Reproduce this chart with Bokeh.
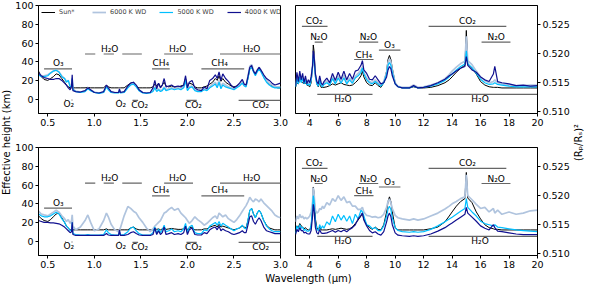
from bokeh.plotting import figure
from bokeh.layouts import row, column
from bokeh.models import Label, Range1d, FixedTicker, PrintfTickFormatter
from bokeh.embed import file_html
from bokeh.resources import INLINE
from bokeh.core.properties import value

FONT = "DejaVu Sans"

# ---------------- data ----------------
wl_vis = [0.40, 0.43, 0.46, 0.50, 0.53, 0.56, 0.59, 0.62, 0.65, 0.68,
          0.70, 0.72, 0.74, 0.755, 0.762, 0.77, 0.80, 0.85, 0.90, 0.93,
          0.96, 1.00, 1.05, 1.10, 1.13, 1.15, 1.18, 1.22, 1.26, 1.27,
          1.28, 1.32, 1.36, 1.39, 1.42, 1.45, 1.48, 1.52, 1.56, 1.60,
          1.63, 1.65, 1.67, 1.69, 1.71, 1.73, 1.75, 1.77, 1.80, 1.83,
          1.86, 1.90, 1.93, 1.96, 1.98, 2.00, 2.02, 2.05, 2.08, 2.11,
          2.15, 2.18, 2.21, 2.24, 2.27, 2.30, 2.32, 2.34, 2.36, 2.38,
          2.41, 2.44, 2.47, 2.50, 2.53, 2.56, 2.59, 2.61, 2.63, 2.65,
          2.67, 2.69, 2.71, 2.73, 2.75, 2.77, 2.79, 2.82, 2.85, 2.88,
          2.91, 2.94, 2.97, 3.00]

# top-left panel (effective height, km)
tl_sun = [30, 24, 21, 20, 22, 24, 27, 26, 22, 18,
          15, 13, 12, 12, 12, 12, 12, 12, 12, 12.5,
          12, 12, 12, 12, 15, 13, 12, 12, 12, 12,
          12, 12, 15, 17, 18, 14, 12, 12, 12, 12,
          13, 16, 14, 17, 13, 15, 18, 14, 13, 14,
          13, 13, 14, 15, 22, 14, 17, 16, 13, 12,
          12, 13, 14, 16, 18, 22, 20, 25, 19, 22,
          18, 16, 14, 13, 14, 16, 18, 15, 14, 22,
          32, 34, 30, 26, 30, 32, 30, 24, 20, 16,
          14, 13, 12, 12]
tl_wd6000 = [27, 25, 25, 26, 28, 30, 31, 29, 25, 22,
             19, 20, 14, 15, 22, 11, 8.5, 7.5, 8.5, 12,
             9.5, 7.5, 6.5, 7.5, 14, 11, 7.5, 7, 7, 9,
             7, 7.5, 13, 16, 17, 14, 9.5, 7, 6.5, 7,
             9, 13, 9, 11, 9, 10, 13, 10, 11, 12,
             11, 12, 11, 13, 21, 10, 13, 14, 10, 9,
             9, 11, 10, 13, 16, 18, 14, 20, 13, 17,
             15, 13, 12, 11, 13, 15, 19, 15, 14, 24,
             35, 37, 31, 27, 31, 34, 31, 25, 20, 17,
             15, 13, 13, 13]
tl_wd5000 = [26, 24, 24, 25, 28, 30, 31, 29, 24, 22,
             18, 20, 13, 14, 22, 10, 8, 7, 8, 11,
             9, 7, 6, 7, 13, 10, 7, 6.5, 6.5, 9,
             6.5, 7, 12, 15, 16, 13, 9, 6.5, 6, 6.5,
             8, 12, 8, 10, 8, 9, 12, 9, 10, 11,
             10, 11, 10, 12, 20, 9, 12, 13, 9, 8,
             8, 10, 9, 12, 14, 16, 12, 18, 11, 15,
             13, 12, 11, 10, 12, 14, 17, 14, 13, 22,
             32, 34, 29, 25, 29, 32, 29, 23, 18, 15,
             13, 12, 12, 12]
tl_wd4000 = [28, 25, 23, 22, 21, 21, 22, 22, 20, 17,
             15, 12, 10, 14, 26, 9, 8, 7.5, 9, 12,
             10, 7, 6.5, 8, 15, 12, 8, 7, 7, 11,
             7, 8, 14, 17, 18, 15, 10, 7, 6.5, 7,
             12, 20, 11, 17, 12, 15, 22, 13, 14, 15,
             13, 14, 13, 15, 25, 12, 18, 20, 12, 10,
             9, 13, 11, 20, 22, 26, 22, 29, 20, 27,
             22, 19, 15, 12, 14, 17, 21, 16, 15, 24,
             34, 36, 30, 27, 31, 34, 31, 26, 22, 20,
             17, 15, 16, 17]

# bottom-left panel (effective height, km)
bl_sun = [27, 24, 22, 21, 23, 26, 29, 30, 25, 20,
          16, 14, 12, 12, 12, 12, 12, 12, 12, 12,
          12, 12, 12, 12, 13, 12, 12, 12, 12, 12,
          12, 12, 12, 14, 15, 13, 12, 12, 12, 12,
          12, 14, 12.5, 13, 12, 13, 15, 12.5, 13, 13.5,
          13, 12.5, 12.5, 13, 16, 12, 14, 15, 12, 12,
          12, 13, 13, 15, 16, 17, 15, 18, 15, 16,
          15, 14, 13, 12, 13, 14, 16, 15, 14, 22,
          33, 35, 29, 25, 30, 33, 30, 22, 17, 14,
          13, 12, 12, 12]
bl_wd6000 = [32, 29, 28, 27, 29, 31, 33, 31, 27, 24,
             21, 23, 19, 22, 28, 16, 12, 15, 22, 28,
             20, 11, 13, 22, 30, 26, 18, 12, 10, 12,
             14, 27, 37, 35, 32, 30, 25, 20, 14, 10,
             13, 16, 18, 20, 22, 26, 30, 31, 34, 36,
             33, 35, 30, 27, 25, 22, 19, 22, 26, 23,
             20, 17, 19, 22, 25, 27, 24, 30, 28, 26,
             28, 24, 22, 20, 23, 27, 32, 35, 38, 42,
             47, 44, 42, 45, 44, 42, 45, 41, 38, 35,
             32, 28, 26, 25]
bl_wd5000 = [29, 27, 26, 26, 27, 29, 31, 29, 24, 20,
             16, 14, 11, 12, 20, 8, 7, 6.5, 6.5, 7,
             6.5, 6.5, 6.5, 7, 12, 9, 7, 6.5, 6.5, 10,
             6.5, 7, 10, 14, 15, 11, 8, 6.5, 6.5, 6.5,
             9, 15, 8, 13, 9, 12, 17, 10, 11, 13,
             10, 11, 10, 13, 19, 9, 15, 17, 9, 8,
             8, 12, 11, 16, 18, 20, 17, 21, 16, 19,
             17, 15, 13, 11, 13, 14, 17, 14, 13, 22,
             33, 35, 29, 25, 30, 33, 30, 22, 16, 13,
             11, 10, 10, 10]
bl_wd4000 = [22, 21, 20, 20, 19.5, 19.5, 19, 18.5, 17, 15,
             13, 11, 9, 10, 20, 7, 6, 6, 6, 6,
             6, 6, 6, 6, 8, 6.5, 6, 6, 6, 12,
             6, 6, 7, 9, 10, 8, 6.5, 6, 6, 6,
             7, 14, 7, 11, 7, 9, 15, 7, 8, 9,
             7, 8, 7, 9, 16, 7, 12, 14, 7, 6.5,
             6.5, 9, 8, 12, 14, 15, 12, 16, 11, 13,
             11, 10, 8, 7, 8, 9, 11, 9, 9, 17,
             26, 27, 21, 18, 22, 25, 22, 15, 11, 10,
             9, 8, 8, 8]

wl_ir = [3.0, 3.1, 3.2, 3.3, 3.4, 3.5, 3.6, 3.7, 3.8, 3.9,
         4.0, 4.1, 4.2, 4.25, 4.3, 4.35, 4.4, 4.5, 4.6, 4.7,
         4.8, 4.9, 5.0, 5.2, 5.4, 5.6, 5.8, 6.0, 6.2, 6.4,
         6.6, 6.8, 7.0, 7.2, 7.4, 7.6, 7.7, 7.8, 8.0, 8.2,
         8.4, 8.6, 8.8, 9.0, 9.2, 9.4, 9.5, 9.6, 9.7, 9.8,
         10.0, 10.2, 10.5, 11.0, 11.3, 11.6, 12.0, 12.5, 13.0, 13.5,
         13.8, 14.0, 14.3, 14.6, 14.9, 15.0, 15.1, 15.4, 15.7, 16.0,
         16.3, 16.6, 16.9, 17.0, 17.2, 17.5, 18.0, 18.5, 19.0, 19.5,
         20.0]

# top-right panel ((Rp/Rs)^2)
tr_sun = [.5142, .5150, .5148, .5155, .5152, .5150, .5148, .5150, .5146, .5145,
          .5143, .5150, .5180, .5215, .5205, .5185, .5165, .5148, .5143, .5150,
          .5142, .5142, .5142, .5143, .5145, .5148, .5146, .5148, .5150, .5147,
          .5146, .5145, .5146, .5150, .5155, .5162, .5170, .5160, .5150, .5146,
          .5145, .5150, .5145, .5142, .5150, .5170, .5190, .5197, .5190, .5175,
          .5150, .5143, .5141, .5141, .5143, .5141, .5141, .5142, .5145, .5150,
          .5155, .5160, .5168, .5175, .5180, .5240, .5182, .5175, .5165, .5152,
          .5146, .5143, .5142, .5142, .5142, .5141, .5141, .5141, .5141, .5141,
          .5141]
tr_wd6000 = [.5145, .5160, .5150, .5163, .5153, .5160, .5150, .5157, .5149, .5150,
             .5147, .5157, .5180, .5202, .5196, .5178, .5162, .5150, .5146, .5157,
             .5147, .5145, .5149, .5153, .5148, .5160, .5150, .5162, .5152, .5163,
             .5151, .5158, .5152, .5161, .5166, .5172, .5178, .5168, .5158, .5152,
             .5150, .5155, .5150, .5146, .5152, .5168, .5185, .5191, .5186, .5172,
             .5150, .5144, .5142, .5142, .5146, .5142, .5143, .5146, .5150, .5157,
             .5164, .5170, .5177, .5183, .5187, .5230, .5188, .5181, .5170, .5160,
             .5154, .5150, .5152, .5155, .5150, .5148, .5146, .5145, .5145, .5146,
             .5146]
tr_wd5000 = [.5143, .5157, .5148, .5160, .5150, .5157, .5148, .5154, .5146, .5148,
             .5145, .5155, .5178, .5198, .5192, .5176, .5160, .5148, .5144, .5155,
             .5145, .5143, .5147, .5150, .5146, .5157, .5148, .5158, .5149, .5158,
             .5148, .5155, .5149, .5158, .5162, .5168, .5175, .5165, .5155, .5150,
             .5148, .5152, .5148, .5144, .5150, .5165, .5180, .5185, .5180, .5168,
             .5148, .5143, .5141, .5141, .5144, .5141, .5142, .5144, .5148, .5154,
             .5160, .5165, .5172, .5178, .5182, .5205, .5183, .5176, .5166, .5156,
             .5150, .5147, .5148, .5150, .5147, .5146, .5144, .5143, .5143, .5143,
             .5143]
tr_wd4000 = [.5145, .5168, .5152, .5170, .5155, .5166, .5150, .5162, .5148, .5155,
             .5150, .5160, .5180, .5205, .5198, .5180, .5165, .5152, .5148, .5162,
             .5150, .5146, .5152, .5158, .5150, .5166, .5154, .5168, .5156, .5170,
             .5155, .5166, .5156, .5170, .5172, .5180, .5188, .5172, .5166, .5156,
             .5155, .5162, .5155, .5148, .5150, .5160, .5172, .5178, .5174, .5162,
             .5148, .5143, .5141, .5141, .5145, .5141, .5142, .5145, .5150, .5156,
             .5162, .5165, .5170, .5175, .5178, .5195, .5180, .5172, .5168, .5160,
             .5155, .5152, .5165, .5178, .5152, .5150, .5148, .5145, .5146, .5144,
             .5145]

# bottom-right panel ((Rp/Rs)^2)
br_sun = [.5140, .5148, .5145, .5152, .5148, .5146, .5143, .5145, .5142, .5141,
          .5141, .5148, .5178, .5215, .5205, .5182, .5160, .5145, .5141, .5146,
          .5141, .5141, .5141, .5141, .5142, .5143, .5142, .5143, .5144, .5143,
          .5142, .5143, .5146, .5152, .5158, .5165, .5170, .5160, .5150, .5145,
          .5142, .5146, .5142, .5141, .5150, .5172, .5190, .5198, .5190, .5172,
          .5145, .5141, .5141, .5141, .5141, .5141, .5141, .5143, .5146, .5155,
          .5165, .5172, .5182, .5190, .5195, .5240, .5196, .5188, .5172, .5160,
          .5150, .5145, .5143, .5142, .5142, .5141, .5141, .5141, .5141, .5141,
          .5141]
br_wd6000 = [.5155, .5165, .5160, .5168, .5162, .5165, .5160, .5163, .5160, .5162,
             .5165, .5172, .5190, .5214, .5205, .5188, .5175, .5170, .5172, .5178,
             .5176, .5182, .5178, .5188, .5184, .5195, .5190, .5200, .5192, .5198,
             .5188, .5190, .5182, .5182, .5176, .5177, .5180, .5172, .5166, .5165,
             .5163, .5164, .5162, .5163, .5168, .5180, .5190, .5194, .5188, .5178,
             .5166, .5162, .5160, .5158, .5160, .5158, .5160, .5165, .5170, .5177,
             .5182, .5186, .5190, .5195, .5198, .5236, .5200, .5193, .5185, .5178,
             .5180, .5172, .5178, .5170, .5175, .5168, .5172, .5168, .5170, .5174,
             .5175]
br_wd5000 = [.5135, .5148, .5142, .5150, .5144, .5146, .5140, .5142, .5139, .5139,
             .5140, .5150, .5180, .5200, .5192, .5172, .5155, .5142, .5140, .5150,
             .5143, .5148, .5144, .5155, .5150, .5165, .5155, .5168, .5158, .5166,
             .5156, .5165, .5152, .5168, .5160, .5175, .5172, .5165, .5150, .5148,
             .5143, .5145, .5140, .5140, .5148, .5165, .5177, .5182, .5176, .5162,
             .5145, .5140, .5138, .5137, .5138, .5137, .5138, .5142, .5148, .5155,
             .5160, .5163, .5168, .5173, .5178, .5195, .5180, .5172, .5165, .5156,
             .5152, .5150, .5148, .5150, .5146, .5145, .5143, .5141, .5140, .5139,
             .5138]
br_wd4000 = [.5133, .5142, .5138, .5145, .5140, .5140, .5136, .5137, .5135, .5134,
             .5134, .5140, .5165, .5185, .5178, .5160, .5145, .5136, .5134, .5142,
             .5136, .5135, .5135, .5136, .5138, .5140, .5137, .5140, .5138, .5141,
             .5138, .5142, .5145, .5150, .5160, .5166, .5170, .5158, .5148, .5140,
             .5136, .5138, .5134, .5132, .5138, .5155, .5165, .5170, .5164, .5150,
             .5136, .5132, .5131, .5130, .5131, .5130, .5131, .5134, .5139, .5145,
             .5150, .5153, .5158, .5163, .5168, .5180, .5170, .5163, .5156, .5148,
             .5144, .5141, .5150, .5145, .5139, .5138, .5136, .5134, .5133, .5133,
             .5133]

series_names = ["Sun*", "6000 K WD", "5000 K WD", "4000 K WD"]

vis_xticks = [0.5, 1.0, 1.5, 2.0, 2.5, 3.0]
vis_yticks = [0, 20, 40, 60, 80, 100]
ir_xticks = [4, 6, 8, 10, 12, 14, 16, 18, 20]
ir_yticks = [0.510, 0.515, 0.520, 0.525]

# molecular band annotations: (label, band ranges, label position, level key)
vis_above = [("O₃", [(0.46, 0.76)], 0.613, "O3"),
             ("H₂O", [(0.90, 1.01), (1.10, 1.21), (1.30, 1.51)], 1.165, "H2O"),
             ("H₂O", [(1.75, 2.06)], 1.895, "H2O"),
             ("H₂O", [(2.35, 3.00)], 2.69, "H2O"),
             ("CH₄", [(1.62, 1.81)], 1.715, "CH4"),
             ("CH₄", [(2.15, 2.61)], 2.345, "CH4")]
vis_below = [("O₂", [(0.684, 0.696), (0.754, 0.766)], 0.725, "O2"),
             ("O₂", [(1.262, 1.274)], 1.284, "O2"),
             ("CO₂", [(1.41, 1.47)], 1.487, "CO2"),
             ("CO₂", [(1.99, 2.10)], 2.065, "CO2"),
             ("CO₂", [(2.55, 3.00)], 2.787, "CO2")]
ir_above = [("CO₂", [(3.45, 5.25)], 4.31, "CO2"),
            ("N₂O", [(4.35, 4.91)], 4.64, "N2O"),
            ("CH₄", [(7.12, 8.48)], 7.80, "CH4"),
            ("N₂O", [(7.46, 8.81)], 8.12, "N2O"),
            ("O₃", [(8.86, 10.37)], 9.60, "O3"),
            ("CO₂", [(12.35, 17.81)], 15.08, "CO2"),
            ("N₂O", [(16.07, 18.10)], 17.10, "N2O")]
ir_below = [("H₂O", [(4.53, 8.41)], 6.33, "H2O"),
            ("H₂O", [(12.35, 20.0)], 15.96, "H2O")]

lv_tl = {"H2O": 48.3, "CH4": 32.4, "O3": 32.4, "O2": -1.0, "CO2": -1.5}
lv_bl = {"H2O": 62.2, "CH4": 48.5, "O3": 35.4, "O2": -1.0, "CO2": -1.5}
lv_tr = {"CO2": 0.5247, "N2O": 0.5220, "CH4": 0.5190, "O3": 0.5206, "H2O": 0.5130}
lv_br = {"CO2": 0.5247, "N2O": 0.5221, "CH4": 0.5200, "O3": 0.5215, "H2O": 0.5130}

# ---------------- styles ----------------
COLORS = ["black", "#b0c4de", "#00bfff", "#10108f"]
WIDTHS = [1.0, 1.7, 1.2, 1.2]
BAND_COLOR = "#666666"
VIS_X = (0.4, 3.0)
VIS_Y = (-15.5, 100.3)
IR_X = (3.0, 20.0)
IR_Y = (0.5097, 0.5283)


def make_panel(width, height, xr, yr, borders, yloc, xt, yt, xfmt, yfmt):
    bl, br, bt, bb = borders
    p = figure(width=width, height=height, x_range=Range1d(*xr), y_range=Range1d(*yr),
               output_backend="svg", toolbar_location=None, y_axis_location=yloc,
               min_border_left=bl, min_border_right=br, min_border_top=bt,
               min_border_bottom=bb)
    p.grid.visible = False
    p.outline_line_color = "black"
    p.outline_line_alpha = 1.0
    p.outline_line_width = 1
    p.xaxis.ticker = FixedTicker(ticks=xt)
    p.yaxis.ticker = FixedTicker(ticks=yt)
    p.xaxis.formatter = PrintfTickFormatter(format=xfmt)
    p.yaxis.formatter = PrintfTickFormatter(format=yfmt)
    for ax in p.axis:
        ax.major_tick_out = 3
        ax.major_tick_in = 0
        ax.minor_tick_line_color = None
        ax.axis_line_color = "black"
        ax.major_tick_line_color = "black"
        ax.major_label_text_font = FONT
        ax.major_label_text_font_size = "9.5px"
        ax.major_label_text_color = "black"
        ax.major_label_standoff = 2
    return p


def draw_series(p, wl, ys, legend=False):
    for y, c, w, name in zip(ys, COLORS, WIDTHS, series_names):
        if legend:
            p.line(wl, y, line_color=c, line_width=w, legend_label=name)
        else:
            p.line(wl, y, line_color=c, line_width=w)


def draw_bands(p, above, below, lv, d_above, d_below_text):
    x0, x1, y0, tx, ty, tt = [], [], [], [], [], []
    for lab, segs, xpos, key in above:
        for a, b in segs:
            x0.append(a); x1.append(b); y0.append(lv[key])
        tx.append(xpos); ty.append(lv[key] + d_above); tt.append(lab)
    for lab, segs, xpos, key in below:
        for a, b in segs:
            x0.append(a); x1.append(b); y0.append(lv[key])
        tx.append(xpos); ty.append(lv[key] + d_below_text[key]); tt.append(lab)
    p.segment(x0=x0, y0=y0, x1=x1, y1=y0, line_color=BAND_COLOR, line_width=1.2)
    p.text(x=tx, y=ty, text=tt, text_font=value(FONT), text_font_size="9px",
           text_align="center", text_baseline="middle", text_color="black")


# ---------------- layout ----------------
TOP_H, BOT_H = 129, 142
LEFT_W, RIGHT_W = 278, 282

tl = make_panel(LEFT_W, TOP_H, VIS_X, VIS_Y, (25, 10, 5, 16), "left",
                vis_xticks, vis_yticks, "%.1f", "%d")
tr = make_panel(RIGHT_W, TOP_H, IR_X, IR_Y, (5, 34, 5, 16), "right",
                ir_xticks, ir_yticks, "%d", "%.3f")
bl = make_panel(LEFT_W, BOT_H, VIS_X, VIS_Y, (25, 10, 18, 16), "left",
                vis_xticks, vis_yticks, "%.1f", "%d")
br = make_panel(RIGHT_W, BOT_H, IR_X, IR_Y, (5, 34, 18, 16), "right",
                ir_xticks, ir_yticks, "%d", "%.3f")

vis_below_off = {"O2": -4.0, "CO2": -5.3}
ir_below_off = {"H2O": -0.00085}

draw_bands(tl, vis_above, vis_below, lv_tl, 5.8, vis_below_off)
draw_bands(bl, vis_above, vis_below, lv_bl, 5.8, vis_below_off)
draw_bands(tr, ir_above, ir_below, lv_tr, 0.00085, ir_below_off)
draw_bands(br, ir_above, ir_below, lv_br, 0.00085, ir_below_off)

draw_series(tl, wl_vis, [tl_sun, tl_wd6000, tl_wd5000, tl_wd4000], legend=True)
draw_series(bl, wl_vis, [bl_sun, bl_wd6000, bl_wd5000, bl_wd4000])
draw_series(tr, wl_ir, [tr_sun, tr_wd6000, tr_wd5000, tr_wd4000])
draw_series(br, wl_ir, [br_sun, br_wd6000, br_wd5000, br_wd4000])

lg = tl.legend[0]
lg.location = "top_left"
lg.orientation = "horizontal"
lg.border_line_color = None
lg.background_fill_alpha = 0.0
lg.label_text_font = FONT
lg.label_text_font_size = "6.5px"
lg.glyph_width = 14
lg.glyph_height = 8
lg.label_height = 8
lg.label_standoff = 4
lg.spacing = 13
lg.padding = 2
lg.margin = 3


def label_fig(width, height, text, x, y, angle):
    f = figure(width=width, height=height, x_range=Range1d(0, 1), y_range=Range1d(0, 1),
               output_backend="svg", toolbar_location=None,
               x_axis_location=None, y_axis_location=None, min_border=0)
    f.grid.visible = False
    f.outline_line_color = None
    f.add_layout(Label(x=x, y=y, x_units="screen", y_units="screen", text=text,
                       angle=angle, angle_units="deg", text_align="center",
                       text_baseline="middle", text_font=FONT,
                       text_font_size="10px", text_color="black"))
    return f


lfig = label_fig(12, 284, "Effective height (km)", 6, 142, 90)
rfig = label_fig(12, 284, "(Rₚ/Rₛ)²", 6, 142, 90)
xfig = label_fig(LEFT_W + RIGHT_W, 13, "Wavelength (μm)", 296, 6.5, 0)

layout = row(lfig, column(row(tl, tr), row(bl, br), xfig), rfig)

open("out.html", "w").write(file_html(layout, INLINE))
